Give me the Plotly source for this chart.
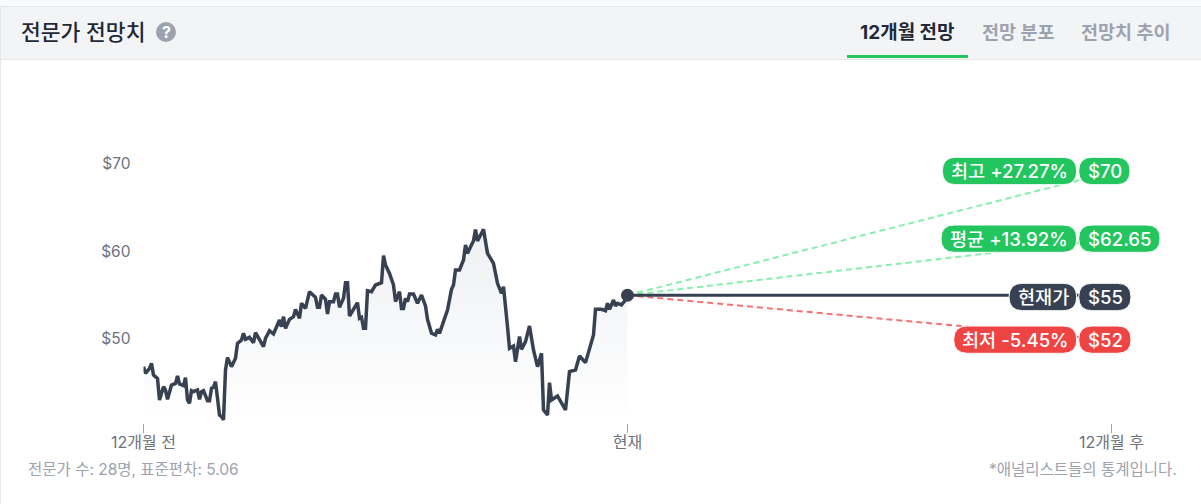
import plotly.graph_objects as go

# 주가: 거래일 인덱스(0 = 12개월 전, 242 = 현재)와 가격
price_days = [0, 1, 2, 3, 4, 5, 7, 8, 10, 11, 12, 14, 16, 17, 18, 20, 21, 22, 23, 24, 25, 27, 28, 29, 30, 32, 33, 34, 35, 36, 37, 38, 39, 40,
              41, 42, 44, 46, 47, 49, 50, 51, 53, 55, 56, 58, 60, 61, 63, 65, 68, 69, 70, 71, 73, 75, 76,
              78, 79, 81, 83, 86, 87, 88, 89, 91, 92, 93, 95, 96, 97, 98, 100, 101, 102, 103, 105, 107, 108, 109, 110, 111, 112,
              114, 116, 119, 120, 121, 123, 125, 126, 128, 129, 130, 131, 132, 133, 135, 137, 139, 141, 142, 144, 146, 147, 148,
              150, 152, 154, 155, 156, 158, 160, 161, 162, 165, 166, 167, 170, 172, 175, 176, 177, 179, 180, 182, 183, 185, 186,
              188, 189, 191, 193, 195, 197, 199, 200, 202, 203, 204, 207, 211, 213, 216, 218, 221, 223, 225, 226, 229, 231, 232,
              233, 235, 236, 237, 239, 241, 242]
price_values = [46.84, 46.08, 46.34, 46.65, 47.22, 45.89, 45.5, 43.03, 44.55, 44.17, 43.1, 44.74, 44.93, 45.77, 44.86, 44.67, 45.58, 43.03, 42.65, 44.1, 43.98, 44.17, 43.1, 43.98, 44.1, 42.95, 42.95, 44.36, 44.48, 45.12, 43.22, 41.31, 41.12, 40.75,
                46.46, 47.87, 46.84, 47.79, 49.5, 49.89, 50.65, 49.96, 50.19, 49.58, 50.72, 49.89, 49.12, 50.08, 50.95, 50.57, 52.17, 51.41, 52.55, 51.22, 52.25, 52.55, 53.39,
                52.36, 54.08, 53.5, 55.41, 54.76, 53.62, 53.62, 55.03, 54.53, 52.86, 54.27, 54.27, 55.14, 55.14, 53.62, 54.65, 56.44, 56.44, 52.63, 53.31, 54.15, 52.36, 52.48, 51.22, 51.22, 55.52,
                55.41, 56.17, 56.44, 59.52, 58.46, 57.5, 56.17, 54.27, 55.41, 53.5, 53.5, 54.65, 54.27, 55.14, 55.14, 54.08, 55.03, 53.77, 52.25, 50.65, 50.46, 51.1, 50.65,
                51.98, 53.31, 55.68, 56.17, 57.89, 57.89, 59.03, 60.74, 59.79, 61.24, 62.5, 61.2, 62.53, 59.79, 58.65, 57.31, 56.36, 55.22, 55.98, 51.41, 48.93, 49.2, 47.41,
                50.27, 48.82, 49.7, 51.49, 48.74, 46.84, 48.36, 41.89, 41.31, 45.01, 43.03, 43.49, 41.89, 46.27, 46.46, 48.06, 47.3, 48.93, 50.46, 53.39, 53.39, 53.24, 54.08,
                53.39, 54.46, 53.77, 54.08, 53.89, 54.46, 55.03]
floor_values = [41, 41]

# 전망선: 현재 → 12개월 후
now_day = 242
future_day = 484
current_price = 55
high_end = 69.09
mean_end = 61.43
low_end = 49.89

y_ticks = [50, 60, 70]
y_labels = ["$50", "$60", "$70"]
x_ticks = [0, 242, 484]
x_labels = ["12개월 전", "현재", "12개월 후"]

DARK = "#374151"
GREEN = "#22c55e"
RED = "#ef4444"
FONT = "Inter, 'Noto Sans CJK KR', sans-serif"
W, H = 1201, 504


def px(x):
    return x / W


def py(y):
    return 1 - y / H


def rect(x0, y0, x1, y1, color):
    return dict(type="rect", xref="paper", yref="paper", x0=px(x0), x1=px(x1), y0=py(y0), y1=py(y1),
                fillcolor=color, line_width=0, layer="below")


def pill(x0, y0, x1, y1, color):
    r = (y1 - y0) / 2
    a, b, c, d = px(x0), px(x1), py(y0), py(y1)
    rx, ry = px(r), r / H
    path = (f"M {a + rx} {c} L {b - rx} {c} Q {b} {c} {b} {c - ry} Q {b} {d} {b - rx} {d} "
            f"L {a + rx} {d} Q {a} {d} {a} {c - ry} Q {a} {c} {a + rx} {c} Z")
    return dict(type="path", xref="paper", yref="paper", path=path, fillcolor=color,
                line=dict(color="white", width=1), layer="above")


def label(text, x, y, size, color, anchor="center", weight=400):
    return dict(text=text, xref="paper", yref="paper", x=px(x), y=py(y), xanchor=anchor, yanchor="middle",
                showarrow=False, font=dict(family=FONT, size=size, color=color, weight=weight))


fig = go.Figure()
fig.add_trace(go.Scatter(x=[price_days[0], now_day], y=floor_values, mode="lines",
                         line=dict(width=0), hoverinfo="skip"))
fig.add_trace(go.Scatter(x=price_days, y=price_values, mode="lines", fill="tonexty",
                         fillgradient=dict(type="vertical",
                                           colorscale=[[0, "#ffffff"], [1, "#eef0f3"]]),
                         line=dict(color=DARK, width=3.5)))

for end, color in [(high_end, "#86efac"), (mean_end, "#86efac"), (low_end, "#f87171")]:
    fig.add_trace(go.Scatter(x=[now_day, future_day], y=[current_price, end], mode="lines",
                             line=dict(color=color, width=2, dash="6px,4px")))
fig.add_trace(go.Scatter(x=[now_day, future_day], y=[current_price, current_price], mode="lines",
                         line=dict(color=DARK, width=3)))
fig.add_trace(go.Scatter(x=[now_day], y=[current_price], mode="markers",
                         marker=dict(color=DARK, size=13), cliponaxis=False))

shapes = [
    rect(0, 0, W, 6, "#f9fafb"),
    rect(0, 6, W, 60, "#f3f4f6"),
    rect(0, 6, W, 7, "#e5e7eb"),
    rect(0, 59, W, 60, "#e5e7eb"),
    rect(0, 6, 1, H, "#e5e7eb"),
    rect(847, 55, 968, 58, GREEN),
    dict(type="circle", xref="paper", yref="paper", x0=px(156), x1=px(176), y0=py(22), y1=py(42),
         fillcolor="#9ca3af", line_width=0, layer="below"),
    pill(942.3, 157.3, 1076.7, 184.7, GREEN),
    pill(1078.7, 157.3, 1130, 184.7, GREEN),
    pill(941, 225, 1076.7, 252.3, GREEN),
    pill(1078.7, 225, 1160, 252.3, GREEN),
    pill(1009, 283.3, 1076.7, 310.7, DARK),
    pill(1078.7, 283.3, 1131, 310.7, DARK),
    pill(953.7, 326, 1076.7, 353.3, RED),
    pill(1078.7, 326, 1131, 353.3, RED),
]

annotations = [
    label("전문가 전망치", 19, 32, 21.5, "#1f2937", "left", 500),
    label("?", 166, 32, 16, "white", weight=700),
    label("12개월 전망", 907, 32, 19, "#1f2937", weight=700),
    label("전망 분포", 1017.5, 32, 18.5, "#9ca3af", weight=700),
    label("전망치 추이", 1125, 32, 18.5, "#9ca3af", weight=700),
    label("최고 +27.27%", 1009, 171, 18.6, "white", weight=500),
    label("$70", 1104.5, 171, 18.6, "white", weight=500),
    label("평균 +13.92%", 1009, 238.7, 18.6, "white", weight=500),
    label("$62.65", 1119.5, 238.7, 18.6, "white", weight=500),
    label("현재가", 1043, 297, 18.6, "white", weight=500),
    label("$55", 1105, 297, 18.6, "white", weight=500),
    label("최저 -5.45%", 1015, 339.7, 18.6, "white", weight=500),
    label("$52", 1105, 339.7, 18.6, "white", weight=500),
    label("전문가 수: 28명, 표준편차: 5.06", 26, 469, 15.5, "#9ca3af", "left"),
    label("*애널리스트들의 통계입니다.", 1179, 469, 15.5, "#9ca3af", "right"),
]

fig.update_layout(
    width=W,
    height=H,
    margin=dict(l=0, r=0, t=0, b=0),
    paper_bgcolor="white",
    plot_bgcolor="rgba(0,0,0,0)",
    showlegend=False,
    font=dict(family=FONT),
    shapes=shapes,
    annotations=annotations,
    xaxis=dict(domain=[px(143.5), px(1111.5)], range=[0, 484], showgrid=False, zeroline=False, automargin=False,
               tickmode="array", tickvals=x_ticks, ticktext=x_labels, ticks="outside", ticklen=9,
               ticklabelstandoff=-4,
               tickcolor="#9ca3af", tickwidth=1, tickfont=dict(size=16, color="#6b7280", family=FONT)),
    yaxis=dict(domain=[py(423), py(129)], range=[40.4, 74], showgrid=False, zeroline=False, automargin=False,
               tickmode="array", tickvals=y_ticks, ticktext=y_labels, ticks="", ticklabelstandoff=12,
               tickfont=dict(size=15.5, color="#6b7280", family=FONT)),
)

fig.write_html("out.html", config={"displayModeBar": False},
               post_script="document.body.style.margin='0';document.body.style.overflow='hidden';")
